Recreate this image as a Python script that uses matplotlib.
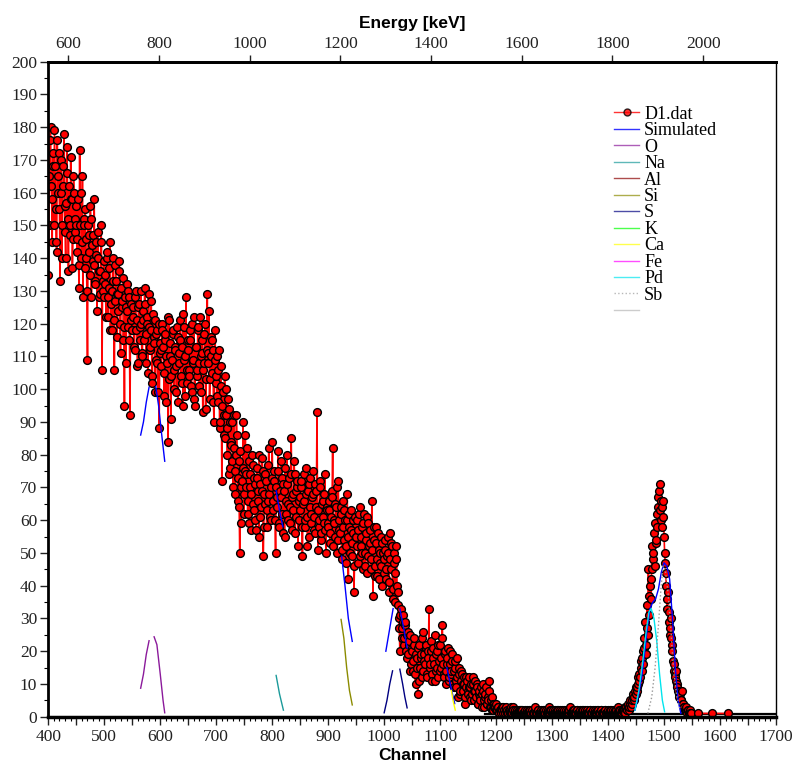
import numpy as np
import matplotlib.pyplot as plt
from matplotlib.lines import Line2D
from matplotlib.ticker import MultipleLocator, FixedLocator, FuncFormatter

# --- calibration (channel -> keV) ---
GAIN = 1.2344
OFFSET = 62.2

# --- measured spectrum D1.dat: even channels 400..1548 and odd channels 401..1547 ---
counts_even = [
    135, 165, 180, 158, 172, 150, 168, 145, 176, 160, 155, 170, 140, 162, 178, 148, 157, 166, 136, 150, 171, 158, 146, 160, 152,
    150, 142, 138, 173, 160, 145, 128, 150, 155, 140, 109, 147, 135, 152, 144, 139, 158, 132, 141, 148, 128, 136, 150, 106, 130,
    128, 135, 140, 122, 131, 145, 126, 118, 133, 106, 138, 129, 124, 136, 120, 131, 127, 115, 95, 125, 132, 119, 128, 92, 121,
    118, 125, 112, 130, 121, 108, 126, 115, 120, 110, 124, 131, 117, 122, 105, 119, 113, 127, 102, 116, 121, 109, 118, 99, 88,
    114, 112, 118, 105, 115, 96, 108, 84, 121, 110, 104, 117, 100, 113, 107, 119, 96, 111, 115, 102, 123, 109, 98, 128, 106,
    112, 104, 118, 99, 108, 122, 95, 113, 106, 119, 101, 110, 115, 93, 108, 120, 103, 129, 111, 97, 116, 105, 112, 90, 118,
    104, 110, 96, 88, 107, 72, 99, 92, 85, 100, 80, 94, 76, 84, 90, 70, 82, 75, 92, 66, 78, 50, 59, 72, 90,
    68, 86, 74, 62, 78, 70, 57, 80, 65, 73, 60, 76, 69, 55, 71, 64, 79, 49, 68, 74, 58, 66, 82, 61, 70,
    84, 63, 72, 50, 67, 75, 59, 69, 78, 62, 71, 55, 66, 80, 60, 73, 64, 85, 57, 68, 74, 61, 70, 52, 66,
    63, 72, 49, 66, 58, 76, 61, 69, 55, 73, 62, 68, 57, 71, 64, 93, 51, 60, 70, 56, 66, 59, 74, 50, 63,
    58, 66, 53, 69, 82, 60, 55, 64, 50, 72, 57, 62, 48, 66, 54, 60, 52, 68, 42, 58, 63, 49, 56, 38, 61,
    55, 60, 47, 64, 52, 58, 45, 62, 50, 56, 44, 59, 53, 48, 66, 37, 54, 46, 58, 43, 51, 47, 55, 40, 50,
    48, 54, 42, 50, 38, 56, 45, 52, 36, 47, 35, 52, 38, 30, 20, 33, 27, 31, 24, 29, 18, 26, 22, 25, 16,
    20, 14, 24, 10, 18, 7, 22, 15, 19, 12, 26, 17, 21, 13, 20, 33, 16, 23, 11, 18, 25, 14, 20, 12, 17,
    22, 15, 28, 13, 19, 10, 16, 21, 12, 20, 14, 17, 9, 15, 11, 18, 6, 13, 8, 14, 10, 12, 4, 9, 11,
    7, 12, 9, 5, 10, 8, 11, 6, 9, 4, 8, 5, 7, 10, 3, 6, 9, 4, 5, 11, 3, 6, 2, 4, 3,
    4, 2, 3, 1, 2, 3, 1, 2, 1, 3, 2, 1, 2, 1, 2, 3, 1, 2, 1, 1, 2, 1, 2, 1, 1,
    1, 2, 1, 1, 2, 1, 1, 2, 1, 1, 3, 1, 2, 1, 1, 2, 1, 1, 2, 1, 1, 2, 3, 1, 2,
    1, 2, 1, 1, 2, 1, 1, 2, 1, 1, 1, 2, 1, 1, 2, 1, 3, 1, 1, 2, 1, 1, 2, 1, 1,
    2, 1, 1, 2, 1, 1, 2, 1, 1, 2, 1, 1, 1, 2, 1, 1, 2, 1, 1, 2, 1, 1, 2, 1, 1,
    2, 1, 1, 2, 1, 1, 2, 1, 1, 3, 1, 2, 1, 2, 2, 1, 3, 2, 4, 3, 5, 4, 6, 5, 8,
    7, 9, 12, 11, 15, 18, 16, 24, 29, 22, 34, 45, 37, 42, 52, 48, 56, 59, 54, 62, 67, 71, 66, 58, 66,
    55, 47, 40, 33, 32, 25, 30, 22, 17, 14, 12, 14, 9, 7, 8, 5, 8, 4, 3, 2, 3, 2, 1, 2, 1,
]
counts_odd = [
    150, 176, 162, 145, 168, 179, 155, 142, 165, 172, 133, 160, 150, 168, 156, 140, 174, 152, 162, 147, 158, 137, 165, 148, 156,
    146, 158, 131, 150, 140, 165, 152, 137, 146, 130, 150, 142, 156, 128, 147, 138, 133, 145, 124, 140, 136, 129, 145, 133, 139,
    132, 122, 142, 128, 137, 118, 130, 140, 121, 127, 133, 116, 129, 139, 111, 125, 134, 119, 128, 108, 124, 130, 115, 126, 118,
    122, 113, 128, 118, 107, 125, 119, 130, 111, 121, 115, 126, 108, 120, 129, 112, 118, 104, 123, 114, 99, 117, 108, 120, 111,
    107, 120, 113, 98, 117, 110, 122, 103, 114, 91, 109, 118, 106, 112, 99, 116, 108, 121, 104, 113, 95, 119, 110, 102, 115,
    106, 115, 101, 120, 109, 97, 113, 104, 118, 108, 122, 99, 111, 106, 117, 94, 112, 108, 124, 103, 110, 115, 96, 109, 102,
    98, 106, 112, 90, 101, 95, 86, 104, 92, 88, 97, 74, 90, 83, 78, 92, 68, 80, 86, 73, 64, 81, 70, 76, 62,
    75, 70, 82, 66, 59, 74, 68, 77, 63, 71, 57, 73, 66, 80, 61, 69, 75, 58, 65, 72, 63, 77, 68, 60, 73,
    66, 75, 60, 70, 64, 81, 58, 67, 73, 56, 69, 76, 62, 71, 65, 59, 74, 67, 63, 78, 56, 69, 72, 60, 67,
    70, 58, 65, 74, 60, 68, 52, 71, 64, 59, 67, 75, 61, 56, 69, 63, 58, 72, 54, 65, 61, 68, 57, 64, 59,
    63, 56, 61, 67, 52, 59, 65, 70, 54, 60, 56, 64, 51, 58, 63, 47, 60, 55, 62, 50, 57, 53, 60, 46, 55,
    52, 57, 62, 49, 55, 50, 59, 46, 54, 61, 49, 52, 57, 45, 51, 58, 43, 53, 48, 56, 42, 50, 46, 53, 44,
    51, 45, 49, 55, 41, 48, 53, 39, 50, 44, 48, 40, 34, 27, 31, 24, 29, 22, 28, 20, 25, 19, 23, 14, 21,
    17, 22, 13, 19, 15, 21, 11, 18, 24, 14, 19, 16, 22, 12, 18, 15, 20, 13, 21, 16, 11, 19, 15, 22, 14,
    18, 24, 16, 12, 20, 14, 18, 11, 16, 13, 19, 10, 14, 17, 9, 12, 15, 7, 11, 13, 8, 10, 6, 12, 8,
    9, 6, 10, 7, 12, 5, 8, 10, 4, 7, 6, 9, 3, 8, 5, 7, 4, 6, 8, 3, 5, 2, 4, 3, 2,
    2, 3, 1, 2, 1, 2, 3, 1, 2, 1, 1, 2, 1, 3, 1, 2, 1, 1, 2, 1, 1, 2, 1, 2, 1,
    1, 1, 2, 1, 1, 2, 1, 1, 1, 2, 1, 1, 2, 1, 1, 1, 2, 1, 1, 2, 1, 1, 1, 2, 1,
    1, 1, 2, 1, 1, 2, 1, 1, 2, 1, 1, 1, 2, 1, 1, 2, 1, 1, 1, 2, 1, 1, 2, 1, 1,
    1, 2, 1, 1, 2, 1, 1, 1, 2, 1, 1, 2, 1, 1, 1, 2, 1, 1, 2, 1, 1, 1, 2, 1, 1,
    1, 2, 1, 1, 2, 1, 1, 2, 1, 2, 1, 1, 2, 2, 1, 3, 2, 3, 2, 4, 3, 5, 7, 6, 9,
    8, 10, 13, 12, 17, 14, 20, 21, 19, 27, 25, 31, 40, 36, 45, 50, 46, 53, 58, 64, 69, 63, 60, 64, 61,
    50, 44, 36, 38, 29, 27, 24, 20, 16, 13, 11, 10, 8, 6, 7, 5, 4, 3, 2, 2, 1, 2, 1, 1,
]
tail_ch = [1561, 1586, 1614]
tail_counts = [1, 1, 1]

# --- simulated spectrum, drawn in the fit windows ---
sim_segments = [
    ([565, 570, 575, 580], [86, 90, 96, 100.6]),
    ([592, 597, 602, 608], [100.8, 95, 87, 78]),
    ([807, 813, 819], [69, 63, 58]),
    ([924, 930, 936, 943], [49, 40, 30, 23]),
    ([1003, 1010, 1016], [20, 27, 33]),
    ([1028, 1035, 1041], [33, 27, 21]),
    ([1112, 1118, 1126], [15, 10, 4]),
    ([1448, 1455, 1460, 1465, 1470, 1475, 1480, 1485, 1490, 1495, 1500, 1505, 1510, 1515, 1520, 1525, 1530],
     [2, 7, 12, 19, 27, 33, 35, 36, 39, 44, 47, 46, 42, 30, 15, 5, 1]),
]

# --- element contributions ---
elements = ['O', 'Na', 'Al', 'Si', 'S', 'K', 'Ca', 'Fe', 'Pd', 'Sb']
element_colors = ['#8b1a9b', '#1b9a9a', '#8b0000', '#8b8b00', '#000080',
                  '#00ff00', '#ffff00', '#ff00ff', '#00e5ee', '#999999']
element_segments = {
    'O': [([565, 570, 575, 580], [8.7, 13, 19, 23.2]),
          ([589, 594, 600, 605, 608], [24.4, 22, 13, 5, 1.2])],
    'Na': [([807, 813, 820], [12.6, 7, 2])],
    'Al': [],
    'Si': [([923, 928, 933, 938, 943], [29.7, 24, 15, 8, 3.6])],
    'S': [([1000, 1005, 1010, 1015], [1.2, 5, 10, 14]),
          ([1028, 1033, 1037, 1041], [14.5, 10, 6, 2.7])],
    'K': [],
    'Ca': [([1120, 1123, 1127], [8, 5, 2])],
    'Fe': [],
    'Pd': [([1448, 1455, 1462, 1468, 1473, 1477, 1482, 1487, 1492, 1497, 1501],
            [2, 8, 17, 26, 32, 33, 30, 23, 13, 5, 1.5])],
    'Sb': [([1471, 1478, 1484, 1490, 1494, 1498, 1502, 1507, 1512, 1517, 1523, 1529],
            [1, 6, 15, 28, 38, 46, 45, 38, 27, 14, 6, 2])],
}

# black baseline along the empty high-channel region
base_ch = [1180, 1700]
base_val = [0.8, 0.8]

energy_ticks = [600, 800, 1000, 1200, 1400, 1600, 1800, 2000]


def ch2e(ch):
    return GAIN * np.asarray(ch) + OFFSET


def e2ch(e):
    return (np.asarray(e) - OFFSET) / GAIN


def main():
    plt.rcParams['font.family'] = 'Liberation Serif'
    fig = plt.figure(figsize=(8.01, 7.69), dpi=100)
    ax = fig.add_axes([0.0603, 0.068, 0.9085, 0.8518])

    ch = np.concatenate([400 + 2 * np.arange(len(counts_even)),
                         401 + 2 * np.arange(len(counts_odd)), tail_ch])
    cts = np.concatenate([counts_even, counts_odd, tail_counts])
    order = np.argsort(ch, kind='stable')
    ch, cts = ch[order], cts[order]

    ax.plot(base_ch, base_val, color='black', lw=1.6, zorder=1)
    ax.plot(ch, cts, '-o', color='red', lw=1.2, markersize=5.6,
            markerfacecolor='red', markeredgecolor='black', markeredgewidth=1.0,
            label='D1.dat', zorder=2)

    for x, y in sim_segments:
        ax.plot(x, y, color='blue', lw=1, zorder=3)
    for name, col in zip(elements, element_colors):
        ls = ':' if name == 'Sb' else '-'
        for x, y in element_segments[name]:
            ax.plot(x, y, color=col, lw=1, ls=ls, zorder=3)

    ax.set_xlim(400, 1700)
    ax.set_ylim(0, 200)

    # ticks
    ax.xaxis.set_major_locator(MultipleLocator(50))
    ax.xaxis.set_minor_locator(MultipleLocator(10))
    ax.xaxis.set_major_formatter(FuncFormatter(lambda v, p: f'{v:.0f}' if v % 100 == 0 else ''))
    ax.yaxis.set_major_locator(MultipleLocator(10))
    ax.yaxis.set_minor_locator(MultipleLocator(5))
    ax.tick_params(axis='both', which='major', direction='out', length=6, width=1,
                   labelsize=12.5, colors='#222222')
    ax.tick_params(axis='both', which='minor', direction='out', length=3, width=0.8)
    ax.tick_params(axis='x', pad=3)
    ax.tick_params(axis='y', pad=2)

    for side, lw in [('left', 2), ('bottom', 2.5), ('top', 2), ('right', 1)]:
        ax.spines[side].set_linewidth(lw)

    ax.set_xlabel('Channel', family='Liberation Sans', fontweight='bold', fontsize=12.5, labelpad=2)

    top = ax.secondary_xaxis('top', functions=(ch2e, e2ch))
    top.xaxis.set_major_locator(FixedLocator(energy_ticks))
    top.xaxis.set_minor_locator(FixedLocator([]))
    top.tick_params(direction='out', length=5, width=1, labelsize=12.5, colors='#222222', pad=2)
    top.spines['top'].set_linewidth(2)
    top.set_xlabel('Energy [keV]', family='Liberation Sans', fontweight='bold', fontsize=12.5, labelpad=6)

    # legend
    handles = [Line2D([], [], color='red', lw=1, marker='o', markersize=5,
                      markerfacecolor='red', markeredgecolor='black', alpha=0.8),
               Line2D([], [], color='blue', lw=1, alpha=0.8)]
    labels = ['D1.dat', 'Simulated']
    for name, col in zip(elements, element_colors):
        ls = ':' if name == 'Sb' else '-'
        handles.append(Line2D([], [], color=col, lw=1, ls=ls, alpha=0.7))
        labels.append(name)
    handles.append(Line2D([], [], color='#cccccc', lw=1))
    labels.append('')
    fig.legend(handles, labels, loc='upper left', bbox_to_anchor=(0.767, 0.8625),
               frameon=False, fontsize=13, labelspacing=-0.03, handlelength=1.35,
               handletextpad=0.3, borderpad=0, borderaxespad=0)

    fig.savefig('out.png', dpi=100)


if __name__ == '__main__':
    main()
